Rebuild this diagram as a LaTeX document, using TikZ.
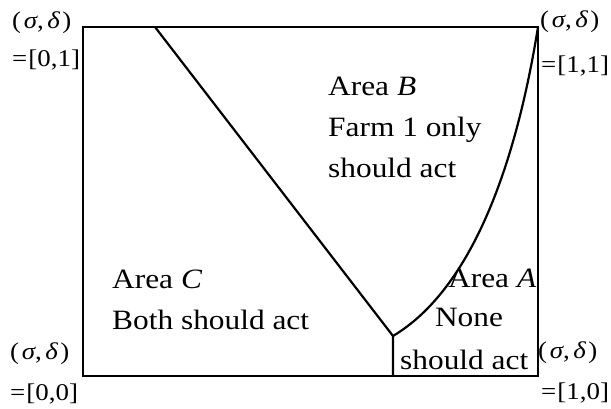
\documentclass[tikz,border=0pt]{standalone}
\usepackage{fontspec}
\setmainfont{Liberation Serif}
\newcommand{\sd}{(\kern2.5pt\textit{σ},\kern3pt\textit{δ}\kern2pt)}
\begin{document}
\begin{tikzpicture}[x=1pt,y=1pt,line width=2.2pt,
    area/.style={font=\fontsize{28}{41}\selectfont, align=left, inner sep=0pt, anchor=base west, xscale=1.12},
    corner/.style={font=\fontsize{24}{28}\selectfont, inner sep=0pt, anchor=west, xscale=1.12}]
    \useasboundingbox (0,0) rectangle (611,409);
    \draw (83,33) coordinate (sw) rectangle (538,382) coordinate (ne);
    \coordinate (top) at (155,382);
    \coordinate (fork) at (393,73);
    \coordinate (foot) at (393,33);
    \draw (top) -- (fork) -- (foot);
    \draw (fork) .. controls (470,119) and (515,239) .. (ne);
    % areas (base = last line)
    \node[area] (areaB) at (327,231) {Area \textit{B}\\Farm 1 only\\should act};
    \node[area] (areaC) at (111,79) {Area \textit{C}\\Both should act};
    \node[area] (areaA) at (447,121) {Area \textit{A}};
    \node[area, anchor=base] (none) at (469,82) {None};
    \node[area] (noneact) at (399,39) {should act};
    % corners
    \node[corner] (tl) at (11,386) {\sd};
    \node[corner] (tlv) at (11,349) {=\kern1pt[0,1]};
    \node[corner] (tr) at (539,387) {\sd};
    \node[corner] (trv) at (540,343) {=\kern1pt[1,1]};
    \node[corner] (bl) at (9,55) {\sd};
    \node[corner] (blv) at (9,15) {=\kern1pt[0,0]};
    \node[corner] (br) at (537,56) {\sd};
    \node[corner] (brv) at (540,16) {=\kern1pt[1,0]};
\end{tikzpicture}
\end{document}
